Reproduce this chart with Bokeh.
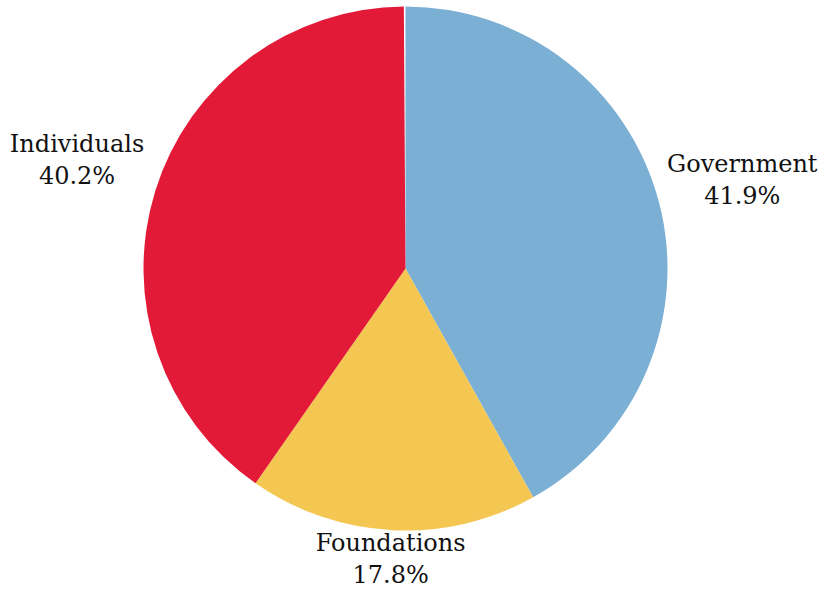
import math
from bokeh.plotting import figure
from bokeh.models import ColumnDataSource, Range1d
from bokeh.embed import file_html
from bokeh.resources import INLINE
from bokeh.core.properties import value

categories = ["Government", "Foundations", "Individuals"]
shares = [41.9, 17.8, 40.2]
colors = ["#7BAFD4", "#F4C752", "#E31A37"]

W, H = 820, 592
cx, cy, R = 405, H - 268, 262
label_dist = [348, 296, 344]
label_nudge_y = [1, 5, 6]

starts, ends, lx, ly = [], [], [], []
acc = 90.0
for i, s in enumerate(shares):
    a0 = acc
    a1 = acc - s / 100 * 360
    starts.append(math.radians(a0))
    ends.append(math.radians(a1))
    mid = math.radians((a0 + a1) / 2)
    lx.append(cx + label_dist[i] * math.cos(mid))
    ly.append(cy + label_dist[i] * math.sin(mid) + label_nudge_y[i])
    acc = a1

src = ColumnDataSource(dict(cat=categories, start=starts, end=ends, color=colors,
                            lx=lx, ly=ly,
                            ly1=[y + 16 for y in ly], ly2=[y - 16 for y in ly],
                            pct=[f"{s:.1f}%" for s in shares]))

p = figure(width=W, height=H, output_backend="svg", toolbar_location=None,
           x_range=Range1d(0, W), y_range=Range1d(0, H), min_border=0)
p.axis.visible = False
p.grid.visible = False
p.outline_line_color = None
p.background_fill_color = "white"

p.wedge(x=cx, y=cy, radius=R, start_angle="start", end_angle="end", direction="clock",
        fill_color="color", line_color=None, source=src)

font = value("DejaVu Serif")
p.text(x="lx", y="ly1", text="cat", source=src, text_font=font, text_font_size="24px",
       text_align="center", text_baseline="middle", text_color="#111111")
p.text(x="lx", y="ly2", text="pct", source=src, text_font=font, text_font_size="24px",
       text_align="center", text_baseline="middle", text_color="#111111")

open("out.html", "w").write(file_html(p, INLINE))
